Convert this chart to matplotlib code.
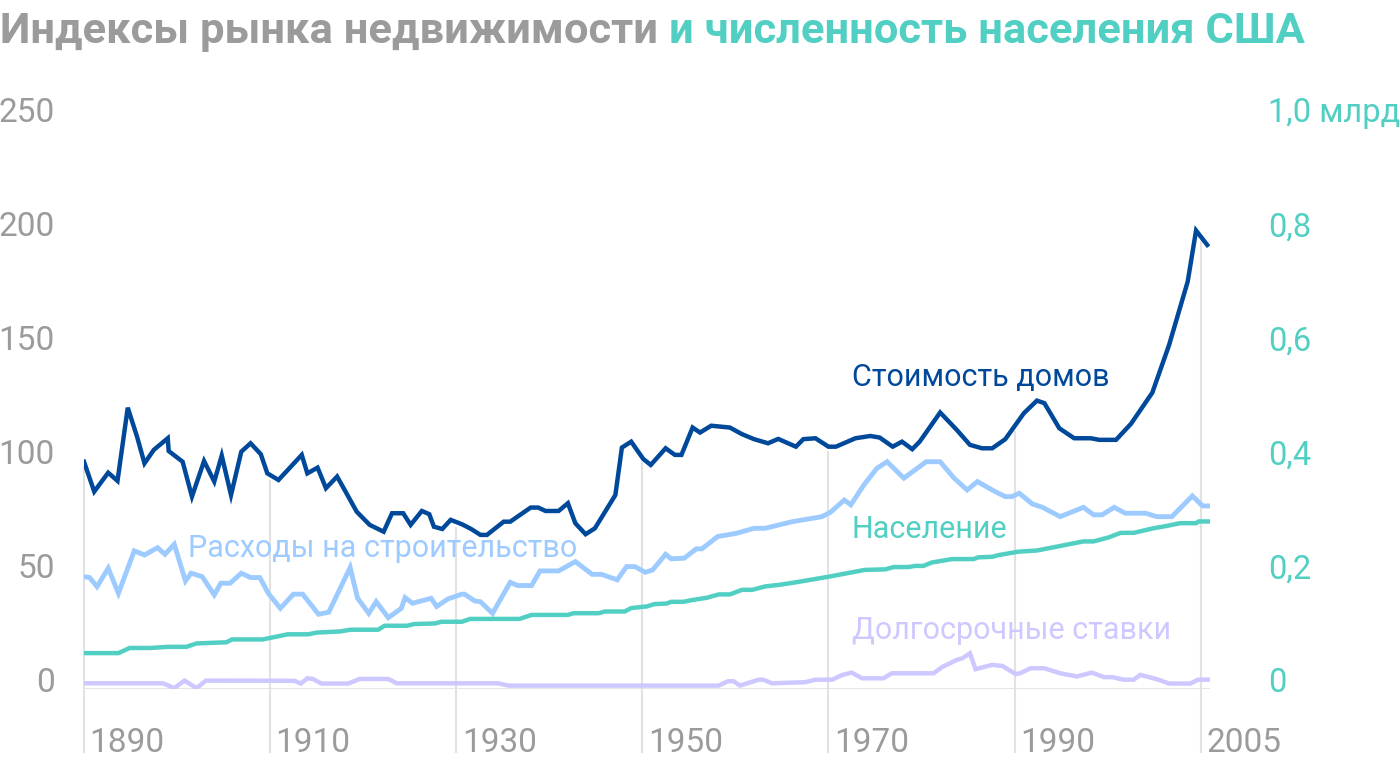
import numpy as np
import matplotlib
matplotlib.use("Agg")
import matplotlib.pyplot as plt
from matplotlib.transforms import ScaledTranslation

# house price index (real, 1890 = 100)
house_years = [1890, 1891.1, 1892.6, 1893.6, 1894.7, 1895.7, 1896.5, 1897.5, 1899.0, 1899.1,
               1900.6, 1901.6, 1902.9, 1904.0, 1904.8, 1905.8, 1906.9, 1907.9, 1909.0, 1909.7,
               1910.9, 1913.4, 1914.0, 1915.1, 1916.0, 1917.2, 1918.2, 1919.3, 1920.7, 1922.2,
               1923.1, 1924.3, 1925.1, 1926.3, 1927.1, 1927.6, 1928.5, 1929.4, 1930.6, 1931.6,
               1932.6, 1933.3, 1935.1, 1935.8, 1938.0, 1938.8, 1939.6, 1941.0, 1942.0, 1942.8,
               1943.9, 1944.9, 1947.1, 1947.8, 1948.8, 1950.1, 1950.9, 1952.5, 1953.5, 1954.2,
               1955.4, 1956.2, 1957.4, 1959.4, 1960.7, 1962.0, 1963.5, 1964.6, 1966.5, 1967.3,
               1968.6, 1970.0, 1970.8, 1972.9, 1974.5, 1975.5, 1976.9, 1977.9, 1979.0, 1979.8,
               1982.0, 1983.8, 1985.2, 1986.5, 1987.6, 1989.0, 1991.0, 1992.4, 1993.2, 1994.8,
               1996.4, 1998.2, 1999.1, 2000.9, 2002.5, 2004.8, 2006.6, 2008.6, 2009.5, 2010.7]
house_values = [95.7, 82.6, 90.9, 87.3, 119.4, 106.7, 95.0, 100.9, 106.0, 100.4,
                95.7, 80.4, 96.0, 87.0, 98.4, 81.1, 100.1, 103.8, 99.0, 90.6,
                87.7, 98.7, 90.6, 93.1, 84.1, 89.2, 81.9, 73.8, 68.0, 65.0,
                73.1, 73.1, 68.0, 74.1, 72.7, 67.2, 66.2, 70.2, 68.3, 66.2,
                63.6, 63.6, 69.4, 69.4, 75.6, 75.6, 74.1, 74.1, 77.5, 68.7,
                63.9, 66.5, 81.1, 101.9, 104.5, 96.9, 94.3, 101.6, 98.7, 98.7,
                110.7, 108.5, 111.5, 110.7, 107.8, 105.6, 103.8, 105.7, 102.3, 105.6,
                106.0, 102.3, 102.3, 106.0, 107.0, 106.3, 102.3, 104.5, 101.2, 104.5,
                117.3, 109.6, 103.1, 101.6, 101.6, 105.6, 117.0, 122.5, 121.4, 110.4,
                106.0, 106.0, 105.3, 105.3, 112.3, 126.0, 146.9, 174.7, 197.1, 190.8]

# construction costs index
build_years = [1890, 1890.6, 1891.4, 1892.6, 1893.7, 1895.4, 1896.5, 1897.9, 1898.7, 1899.7,
               1900.9, 1901.5, 1902.7, 1904.0, 1904.7, 1905.7, 1906.9, 1907.9, 1908.9, 1909.8,
               1911.1, 1912.5, 1913.5, 1915.2, 1916.3, 1918.6, 1919.4, 1920.6, 1921.4, 1922.7,
               1924.1, 1924.5, 1925.3, 1927.3, 1927.9, 1929.1, 1930.6, 1930.9, 1932.0, 1932.6,
               1933.9, 1935.8, 1936.6, 1938.1, 1939.0, 1941.0, 1942.8, 1944.6, 1945.6, 1947.3,
               1948.3, 1949.2, 1950.3, 1951.1, 1952.5, 1953.1, 1954.5, 1955.8, 1956.4, 1958.1,
               1960.1, 1962.0, 1963.2, 1966.1, 1969.3, 1970.2, 1971.7, 1972.4, 1973.8, 1975.2,
               1976.3, 1978.1, 1980.5, 1982.0, 1983.5, 1984.9, 1986.0, 1987.9, 1989.0, 1989.7,
               1990.5, 1991.9, 1993.0, 1994.9, 1997.4, 1998.5, 1999.4, 2000.7, 2001.9, 2004.1,
               2005.3, 2006.9, 2009.1, 2010.2, 2010.9]
build_values = [45.3, 44.9, 40.9, 49.0, 38.0, 56.6, 54.8, 58.0, 55.1, 59.5,
                43.4, 46.8, 45.3, 37.3, 42.4, 42.4, 46.8, 44.9, 44.9, 38.0,
                31.4, 37.6, 37.6, 28.8, 29.7, 49.3, 35.8, 29.2, 34.3, 27.3,
                31.4, 36.1, 33.6, 35.8, 32.2, 35.5, 37.6, 37.6, 34.6, 34.3,
                29.2, 42.8, 41.4, 41.4, 47.8, 47.8, 51.9, 46.3, 46.3, 43.9,
                49.7, 49.7, 47.2, 48.2, 55.1, 53.1, 53.4, 57.5, 57.5, 62.9,
                64.3, 66.5, 66.5, 69.4, 71.6, 73.5, 78.9, 76.8, 85.5, 92.8,
                95.7, 88.5, 95.7, 95.7, 88.5, 83.3, 87.0, 82.6, 80.4, 80.4,
                81.9, 77.2, 75.7, 71.6, 75.7, 72.4, 72.4, 75.7, 73.1, 73.1,
                71.6, 71.6, 80.7, 76.3, 76.3]

# US population, billions
pop_years = [1890, 1893.7, 1894.9, 1897.1, 1899.0, 1901.0, 1902.1, 1905.3, 1905.9, 1909.2,
             1911.9, 1914.1, 1915.0, 1917.5, 1918.6, 1921.6, 1922.3, 1924.7, 1925.5, 1927.7,
             1928.4, 1930.6, 1931.5, 1936.8, 1938.1, 1942.0, 1942.6, 1945.3, 1946.0, 1948.1,
             1948.8, 1950.5, 1951.3, 1952.6, 1953.1, 1954.4, 1955.3, 1956.9, 1958.2, 1959.4,
             1960.7, 1961.8, 1963.2, 1964.8, 1966.4, 1970.0, 1973.9, 1976.1, 1977.0, 1978.6,
             1979.3, 1980.2, 1981.1, 1983.3, 1985.6, 1986.1, 1987.6, 1988.3, 1990.4, 1992.4,
             1997.4, 1998.5, 2000.1, 2001.4, 2002.8, 2004.9, 2006.3, 2007.8, 2009.5, 2009.8,
             2010.9]
pop_values = [0.047, 0.047, 0.056, 0.056, 0.058, 0.058, 0.064, 0.066, 0.071, 0.071,
              0.080, 0.080, 0.083, 0.085, 0.088, 0.088, 0.095, 0.095, 0.098, 0.099,
              0.102, 0.102, 0.107, 0.107, 0.114, 0.114, 0.117, 0.117, 0.120, 0.120,
              0.126, 0.129, 0.133, 0.134, 0.137, 0.137, 0.140, 0.144, 0.150, 0.150,
              0.158, 0.158, 0.164, 0.167, 0.171, 0.181, 0.193, 0.194, 0.198, 0.198,
              0.200, 0.200, 0.206, 0.212, 0.212, 0.215, 0.216, 0.219, 0.225, 0.227,
              0.243, 0.243, 0.250, 0.258, 0.258, 0.266, 0.270, 0.275, 0.275, 0.278,
              0.278]

# long-term interest rates
rate_years = [1890, 1898.5, 1899.7, 1900.8, 1902.1, 1903.1, 1912.6, 1913.3, 1914.0, 1914.6,
              1915.5, 1918.4, 1919.6, 1922.7, 1923.6, 1934.5, 1935.6, 1958.2, 1959.2, 1959.8,
              1960.5, 1962.5, 1963.0, 1963.9, 1967.5, 1968.6, 1970.4, 1971.5, 1972.5, 1973.6,
              1975.9, 1976.8, 1981.3, 1982.2, 1983.8, 1984.4, 1985.2, 1985.8, 1987.6, 1988.7,
              1990.1, 1990.6, 1991.7, 1993.2, 1994.9, 1996.7, 1998.3, 1999.6, 2000.5, 2001.7,
              2002.8, 2003.5, 2005.3, 2006.6, 2008.9, 2009.7, 2010.9]
rate_values = [-1.5, -1.5, -3.6, -0.3, -3.6, -0.3, -0.4, -1.6, 0.7, 0.4,
               -1.6, -1.6, 0.4, 0.4, -1.5, -1.5, -2.5, -2.5, -0.6, -0.6,
               -2.5, 0.1, 0.1, -1.5, -1.0, 0.1, 0.1, 2.2, 3.2, 0.7,
               0.7, 2.9, 2.9, 5.6, 8.8, 9.5, 11.7, 4.7, 6.6, 6.1,
               2.6, 2.9, 5.1, 5.1, 2.9, 1.5, 3.2, 1.2, 1.2, 0.1,
               0.1, 2.2, 0.3, -1.6, -1.6, 0.1, 0.1]

tick_years = [1890, 1910, 1930, 1950, 1970, 1990, 2010]
tick_labels = ["1890", "1910", "1930", "1950", "1970", "1990", "2005"]
left_ticks = [0, 50, 100, 150, 200, 250]
right_ticks = [0, 0.2, 0.4, 0.6, 0.8, 1.0]
right_labels = ["0", "0,2", "0,4", "0,6", "0,8", "1,0 млрд"]

DARK = "#00499a"
LIGHT = "#9dcbff"
TEAL = "#52cfc3"
PURPLE = "#cdc8ff"
GREY = "#9b9b9b"
GRID = "#e2e2e2"

plt.rcParams["font.family"] = ["Roboto", "DejaVu Sans"]

fig = plt.figure(figsize=(14, 7.6), dpi=100)
ax = fig.add_axes([0.06, 0.0934, 0.8043, 0.7619])
ax2 = ax.twinx()

y_min, y_max = -4, 250
ax.set_xlim(1890, 2011)
ax.set_ylim(y_min, y_max)
ax2.set_ylim(y_min / 250, y_max / 250)

# drop lines from the house price curve to the year labels
tops = np.interp(tick_years, house_years, house_values)
ax.vlines(tick_years, -32, tops - 2, color=GRID, lw=1.5, clip_on=False, zorder=0)
ax.axhline(y_min, color=GRID, lw=2, zorder=0)

ax.plot(rate_years, rate_values, color=PURPLE, lw=3.2, solid_joinstyle="miter", zorder=2)
ax2.plot(pop_years, pop_values, color=TEAL, lw=3.2, solid_joinstyle="miter", zorder=2)
ax.plot(build_years, build_values, color=LIGHT, lw=3.5, solid_joinstyle="miter", zorder=3)
ax.plot(house_years, house_values, color=DARK, lw=3.2, solid_joinstyle="miter", zorder=4)

label_kw = dict(fontsize=22, va="center", ha="left")
ax.text(1972.5, 132.5, "Стоимость домов", color=DARK, **label_kw)
ax.text(1901.2, 57.5, "Расходы на строительство", color=LIGHT, **label_kw)
ax.text(1972.5, 65.8, "Население", color=TEAL, **label_kw)
ax.text(1972.5, 21.5, "Долгосрочные ставки", color=PURPLE, **label_kw)

for a in (ax, ax2):
    for side in a.spines.values():
        side.set_visible(False)
    a.set_zorder(1)
ax2.patch.set_visible(False)

ax.set_yticks(left_ticks)
ax.tick_params(axis="y", length=0, pad=21, labelsize=24, labelcolor=GREY)
ax2.set_yticks(right_ticks, right_labels)
ax2.tick_params(axis="y", length=0, pad=42, labelsize=23.5, labelcolor=TEAL)

ax.set_xticks(tick_years, tick_labels)
ax.tick_params(axis="x", length=0, pad=27, labelsize=24, labelcolor=GREY)
shift = ScaledTranslation(4 / 72, 0, fig.dpi_scale_trans)
for lab in ax.get_xticklabels():
    lab.set_ha("left")
    lab.set_transform(lab.get_transform() + shift)

t1 = fig.text(0.0, 0.985, "Индексы рынка недвижимости ", fontsize=31.3, fontweight="bold",
              color=GREY, ha="left", va="top")
ax.annotate("и численность населения США", xy=(1, 0), xycoords=t1, fontsize=31.3,
            fontweight="bold", color=TEAL, ha="left", va="bottom", annotation_clip=False)

fig.savefig("out.png", dpi=100, facecolor="white")
